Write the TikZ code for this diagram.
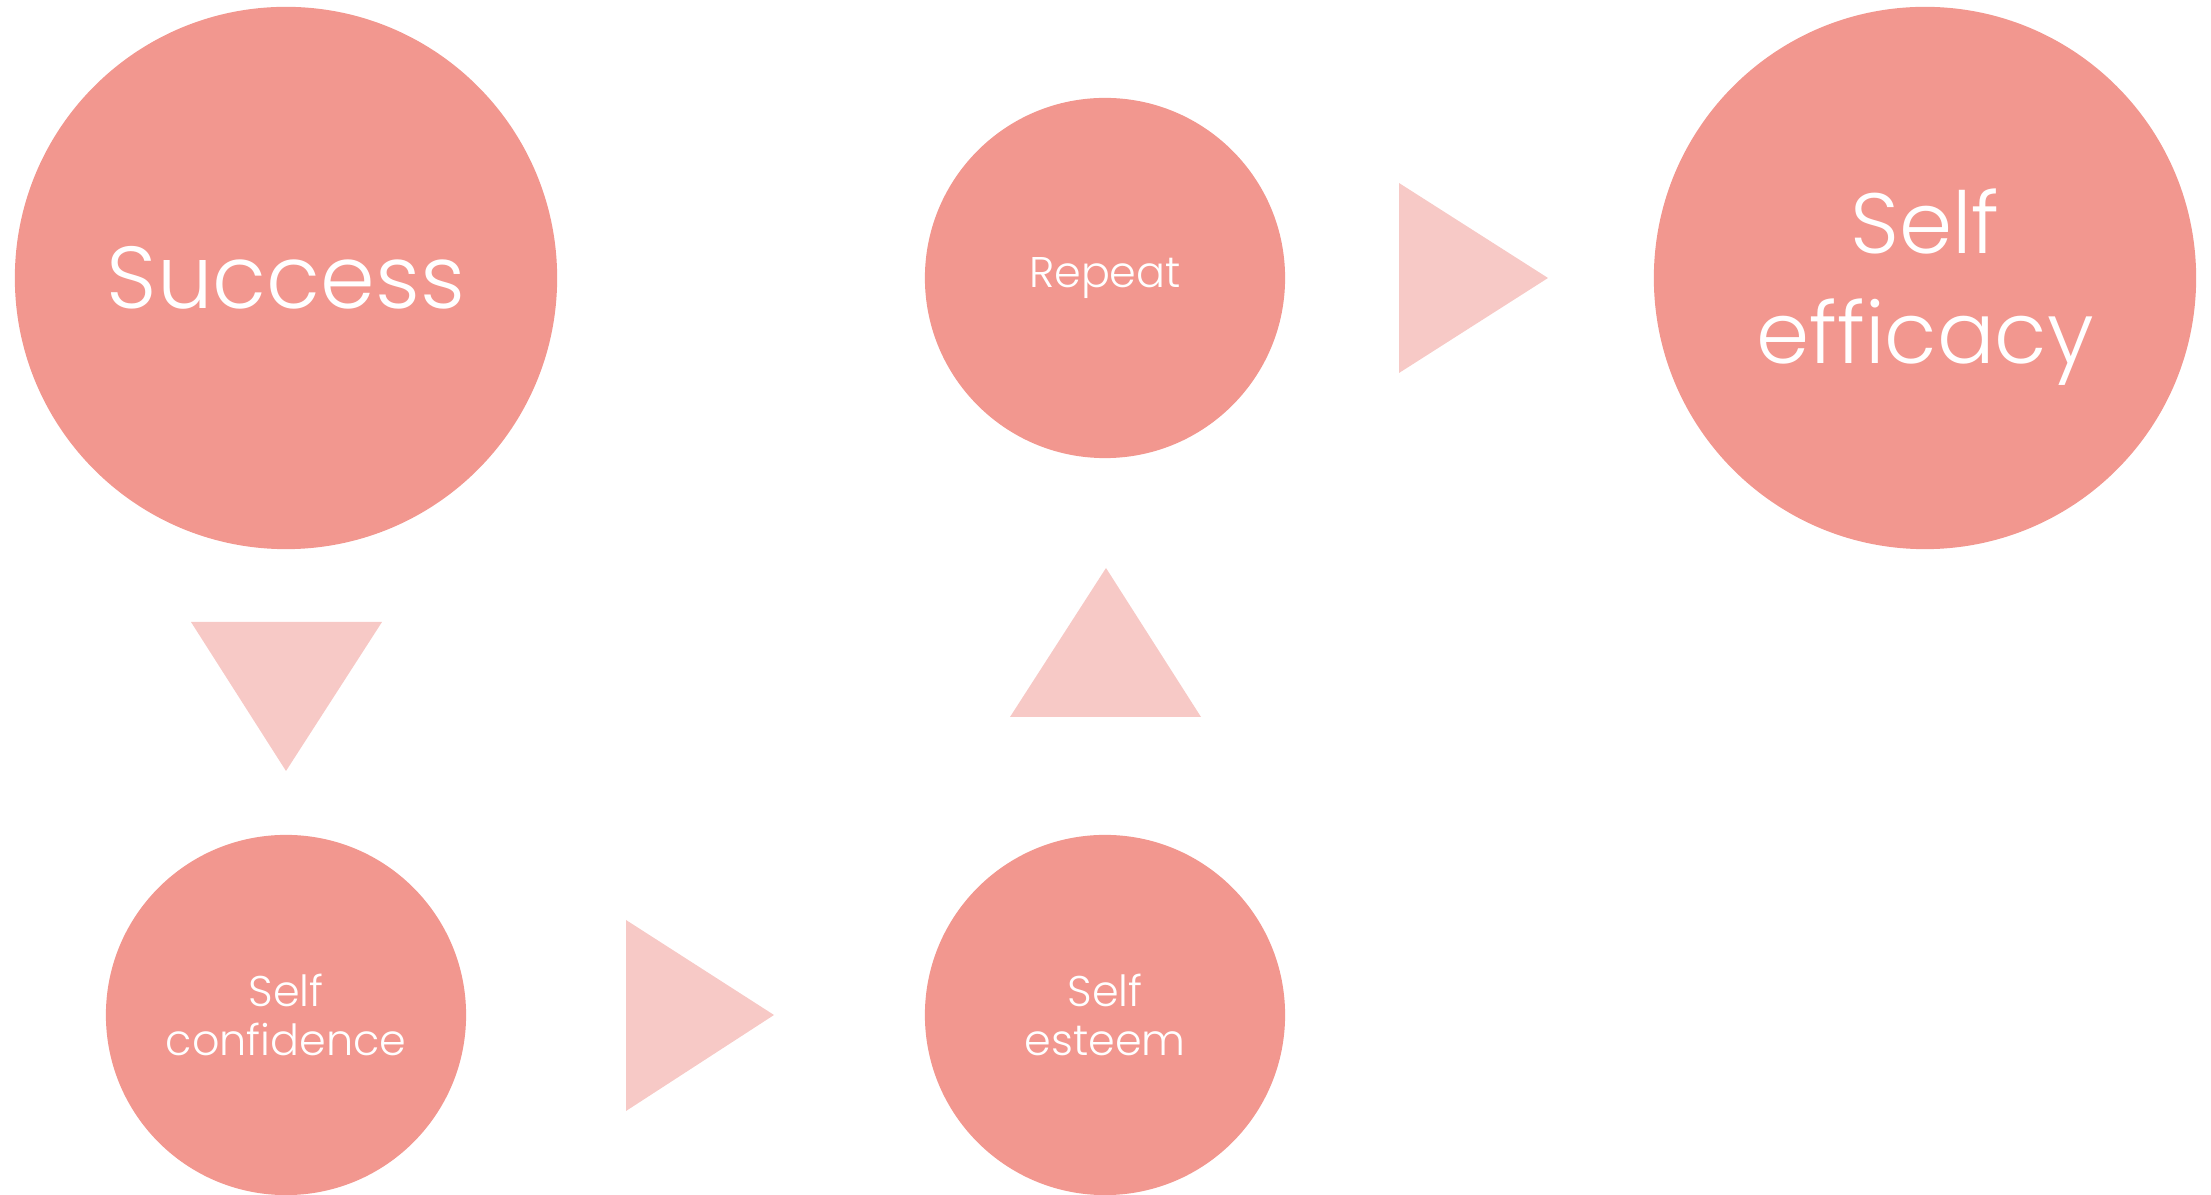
\documentclass[tikz,border=0pt]{standalone}
\usepackage{fontspec}
\IfFontExistsTF{Poppins Light}{\setmainfont{Poppins Light}}{\setmainfont{Poppins}}
\usepackage{tikz}
\usepackage{xcolor}

\definecolor{discpink}{HTML}{F2978F}
\definecolor{arrowpink}{HTML}{F7C9C6}

\begin{document}
\begin{tikzpicture}[
    x=0.01cm, y=-0.01cm,
    bigdisc/.style={circle, fill=discpink, text=white, minimum size=5.42cm, inner sep=0pt, align=center, font=\fontsize{25}{31.3}\selectfont},
    smalldisc/.style={circle, fill=discpink, text=white, minimum size=3.6cm, inner sep=0pt, align=center, font=\fontsize{12.2}{13.9}\selectfont},
    pointer/.style={fill=arrowpink}
]
    \useasboundingbox (0,0) rectangle (2211,1195);

    % Nodes
    \node[bigdisc] (success) at (286,278) {Success};
    \node[smalldisc] (repeat) at (1105,278) {Repeat};
    \node[bigdisc, font=\fontsize{24.3}{31.3}\selectfont, text height=55pt] (efficacy) at (1925,278) {Self\\efficacy};
    \node[smalldisc] (confidence) at (286,1015) {Self\\confidence};
    \node[smalldisc] (esteem) at (1105,1015) {Self\\esteem};

    % Arrows
    \fill[pointer] (191,622) -- (382,622) -- (286,771) -- cycle;
    \fill[pointer] (626,920) -- (774,1015) -- (626,1111) -- cycle;
    \fill[pointer] (1010,717) -- (1201,717) -- (1106,568) -- cycle;
    \fill[pointer] (1399,183) -- (1548,278) -- (1399,373) -- cycle;
\end{tikzpicture}
\end{document}
